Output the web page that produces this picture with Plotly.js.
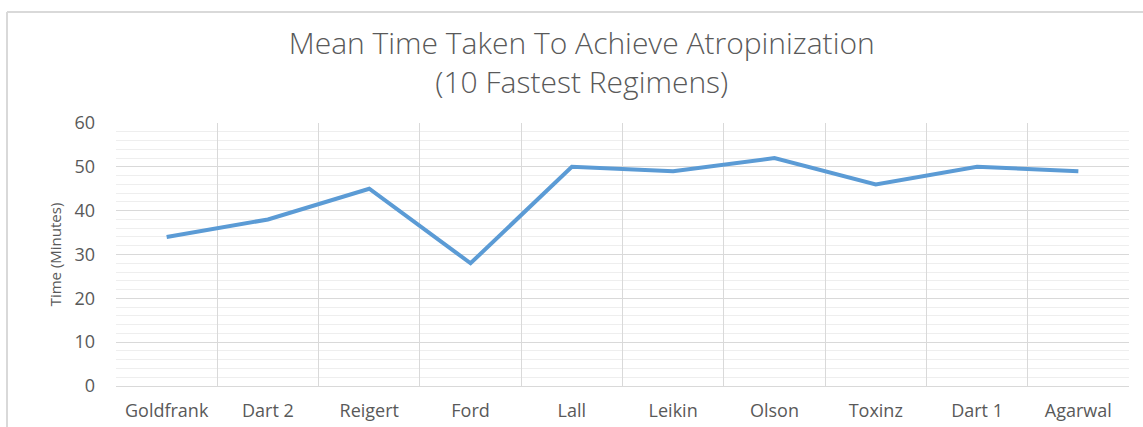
<!DOCTYPE html>
<html>
<head>
<meta charset="utf-8">
<script src="https://cdn.plot.ly/plotly-3.0.1.min.js"></script>
<style>
  html, body { margin: 0; padding: 0; background: #ffffff; }
  #chart { width: 1143px; height: 427px; }
</style>
</head>
<body>
<div id="chart"></div>
<script>
const categories = ["Goldfrank", "Dart 2", "Reigert", "Ford", "Lall", "Leikin", "Olson", "Toxinz", "Dart 1", "Agarwal"];
const meanTime = [34, 38, 45, 28, 50, 49, 52, 46, 50, 49];
const yTickValues = [0, 10, 20, 30, 40, 50, 60];

const trace = {
  type: "scatter",
  mode: "lines",
  x: categories,
  y: meanTime,
  line: { color: "#5B9BD5", width: 4 },
  hoverinfo: "x+y"
};

const FONT = "'Open Sans', Lato, sans-serif";

const layout = {
  width: 1143,
  height: 427,
  margin: { l: 116, r: 14, t: 123, b: 41 },
  paper_bgcolor: "#ffffff",
  plot_bgcolor: "#ffffff",
  showlegend: false,
  font: { family: FONT, color: "#595959" },
  title: {
    text: "Mean Time Taken To Achieve Atropinization<br>(10 Fastest Regimens)",
    font: { family: FONT, size: 30, color: "#595959", weight: 300 },
    x: 0.509,
    xanchor: "center",
    y: 0.874,
    yanchor: "middle"
  },
  xaxis: {
    type: "category",
    range: [-0.5, 9.5],
    tickson: "boundaries",
    ticks: "",
    showgrid: true,
    gridcolor: "#d9d9d9",
    gridwidth: 1,
    showline: true,
    linecolor: "#d9d9d9",
    linewidth: 1,
    zeroline: false,
    tickfont: { family: FONT, size: 18, color: "#595959" },
    ticklabelstandoff: 8,
    fixedrange: true
  },
  yaxis: {
    range: [0, 60],
    tickvals: yTickValues,
    ticktext: yTickValues.map(String),
    ticks: "",
    showgrid: true,
    gridcolor: "#d9d9d9",
    gridwidth: 1,
    zeroline: false,
    showline: false,
    tickfont: { family: FONT, size: 18, color: "#595959" },
    ticklabelstandoff: 20,
    minor: { dtick: 2, showgrid: true, gridcolor: "#eeeeee", gridwidth: 1, ticks: "" },
    title: {
      text: "Time (Minutes)",
      font: { family: FONT, size: 15, color: "#595959" },
      standoff: 9
    },
    fixedrange: true
  },
  shapes: [
    { type: "line", xref: "paper", yref: "paper", x0: -0.1076, x1: 1.2, y0: 1.422, y1: 1.422,
      line: { color: "#d9d9d9", width: 2 } },
    { type: "line", xref: "paper", yref: "paper", x0: -0.1076, x1: -0.1076, y0: 1.422, y1: -0.3,
      line: { color: "#d9d9d9", width: 2 } }
  ]
};

Plotly.newPlot("chart", [trace], layout, { displayModeBar: false, staticPlot: true });
</script>
</body>
</html>
